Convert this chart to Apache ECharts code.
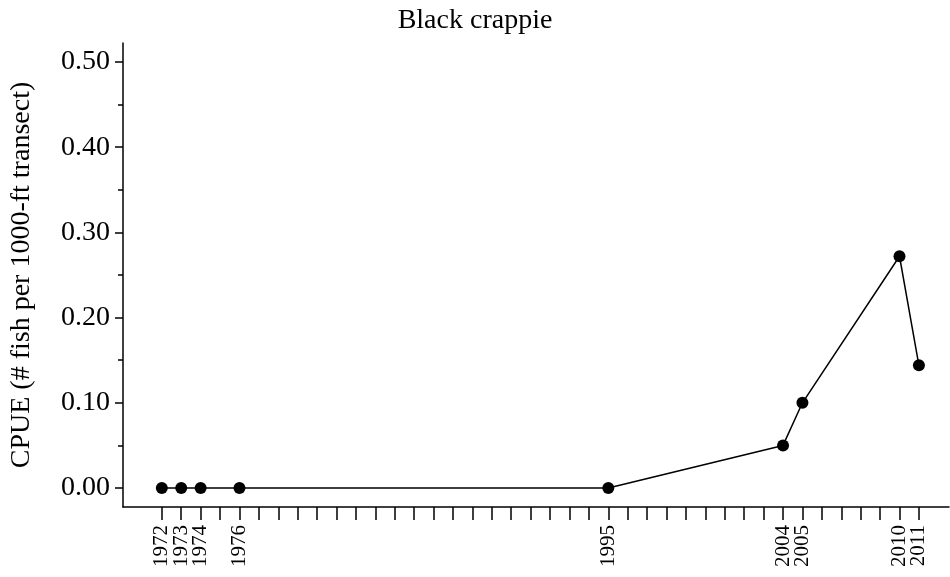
<!DOCTYPE html>
<html>
<head>
<meta charset="utf-8">
<script src="https://cdn.jsdelivr.net/npm/echarts@6/dist/echarts.min.js"></script>
<style>html,body{margin:0;padding:0;background:#fff;}#c{width:950px;height:577px;}</style>
</head>
<body>
<div id="c"></div>
<script>
const years = [1972, 1973, 1974, 1976, 1995, 2004, 2005, 2010, 2011];
const cpue = [0, 0, 0, 0, 0, 0.050, 0.100, 0.272, 0.144];
const yMajorTicks = [0, 0.1, 0.2, 0.3, 0.4, 0.5];
const yMinorTicks = [0.05, 0.15, 0.25, 0.35, 0.45];
const xTickYears = [];
for (let y = 1972; y <= 2011; y++) xTickYears.push(y);
const titleText = 'Black crappie';
const yName = 'CPUE (# fish per 1000-ft transect)';

// split the year labels over two label rows so neighbours never collide
const labelsA = years.filter((y, i) => i % 2 === 0);
const labelsB = years.filter((y, i) => i % 2 === 1);

const font = 'Liberation Serif, Times New Roman, serif';
const xMin = 1970, xMax = 2012.55, yMin = -0.0223, yMax = 0.5223;
function xLabelAxis(values, main) {
  return {
    type: 'value', min: xMin, max: xMax, position: 'bottom', offset: 0,
    splitLine: {show: false},
    axisLine: {show: main, onZero: false, lineStyle: {color: '#000', width: 1.5}},
    axisTick: {show: main, customValues: xTickYears, length: 13, lineStyle: {color: '#000', width: 1.5}},
    axisLabel: {
      customValues: values, rotate: 90, margin: 18,
      hideOverlap: false, showMinLabel: true, showMaxLabel: true,
      formatter: v => String(v),
      fontFamily: font, fontSize: 21, color: '#000'
    }
  };
}
const chart = echarts.init(document.getElementById('c'), null, {renderer: 'canvas'});
chart.setOption({
  animation: false,
  backgroundColor: '#fff',
  title: {
    text: titleText, left: 'center', top: 2,
    textStyle: {fontFamily: font, fontSize: 28, fontWeight: 'normal', color: '#000'}
  },
  grid: {left: 123, top: 43, right: 1, bottom: 70, containLabel: false},
  xAxis: [xLabelAxis(labelsA, true), xLabelAxis(labelsB, false)],
  yAxis: [{
    type: 'value', min: yMin, max: yMax,
    name: yName, nameLocation: 'middle', nameGap: 87,
    nameTextStyle: {fontFamily: font, fontSize: 28, color: '#000'},
    splitLine: {show: false},
    axisLine: {show: true, onZero: false, lineStyle: {color: '#000', width: 1.5}},
    axisTick: {show: true, customValues: yMajorTicks, length: 8, lineStyle: {color: '#000', width: 1.5}},
    axisLabel: {
      customValues: yMajorTicks, margin: 13,
      showMinLabel: true, showMaxLabel: true,
      formatter: v => v.toFixed(2),
      fontFamily: font, fontSize: 28, color: '#000'
    }
  }, {
    type: 'value', min: yMin, max: yMax, position: 'left', offset: 0,
    splitLine: {show: false},
    axisLine: {show: false, onZero: false},
    axisTick: {show: true, customValues: yMinorTicks, length: 5, lineStyle: {color: '#000', width: 1.5}},
    axisLabel: {show: false}
  }],
  series: [{
    type: 'line', xAxisIndex: 0, yAxisIndex: 0,
    data: years.map((y, i) => [y, cpue[i]]),
    symbol: 'circle', symbolSize: 12,
    lineStyle: {color: '#000', width: 1.5},
    itemStyle: {color: '#000'}
  }]
});
</script>
</body>
</html>
